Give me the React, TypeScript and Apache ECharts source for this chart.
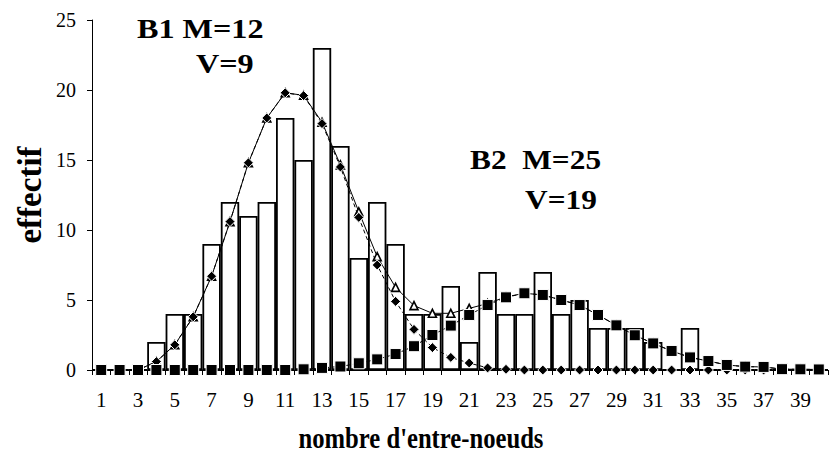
import React, { useEffect, useRef } from "react";
import * as echarts from "echarts";

const categories: string[] = Array.from({ length: 40 }, (_, i) => String(i + 1));

// observed counts (bars)
const observed: number[] = [
  0, 0, 0, 2, 4, 4, 9, 12, 11, 12,
  18, 15, 23, 16, 8, 12, 9, 4, 4, 6,
  2, 7, 4, 4, 7, 4, 5, 3, 3, 3,
  2, 0, 3, 0, 0, 0, 0, 0, 0, 0,
];

// B1 fitted normal (diamonds)
const fitB1: number[] = [
  0, 0, 0, 0.6, 1.8, 3.8, 6.7, 10.6, 14.8, 18.0,
  19.8, 19.6, 17.6, 14.5, 10.9, 7.5, 4.9, 2.9, 1.6, 0.9,
  0.5, 0.15, 0.05, 0, 0, 0, 0, 0, 0, 0,
  0, 0, 0, 0, 0, 0, 0, 0, 0, 0,
];

// B2 fitted normal (squares)
const fitB2: number[] = [
  0, 0, 0, 0, 0, 0, 0, 0, 0, 0,
  0, 0.05, 0.15, 0.25, 0.48, 0.76, 1.14, 1.7, 2.5, 3.17,
  3.93, 4.64, 5.19, 5.48, 5.36, 5.0, 4.64, 3.93, 3.19, 2.48,
  1.9, 1.36, 0.9, 0.64, 0.36, 0.24, 0.22, 0.06, 0.05, 0.04,
];

// mixture total (open triangles)
const fitTotal: number[] = [
  0, 0, 0, 0.6, 1.8, 3.8, 6.7, 10.6, 14.8, 18.0,
  19.8, 19.62, 17.7, 14.65, 11.3, 8.1, 5.9, 4.6, 4.05, 4.05,
  4.4, 4.75, 5.22, 5.48, 5.36, 5.0, 4.64, 3.93, 3.19, 2.48,
  1.9, 1.36, 0.9, 0.64, 0.36, 0.24, 0.22, 0.06, 0.05, 0.04,
];

const yTicks = { min: 0, max: 25, interval: 5 };

const FONT = "Liberation Serif";

const boldText = (text: string, x: number, y: number, size: number, extra: any = {}) => ({
  type: "text",
  x,
  y,
  ...extra,
  style: {
    text,
    fontFamily: FONT,
    fontWeight: "bold",
    fontSize: size,
    fill: "#000",
    align: extra.align || "left",
    verticalAlign: "middle",
  },
});

export default function App() {
  const ref = useRef<HTMLDivElement>(null);
  useEffect(() => {
    if (!ref.current) return;
    const chart = echarts.init(ref.current, undefined, { renderer: "svg" });
    chart.setOption({
      animation: false,
      backgroundColor: "#ffffff",
      grid: { left: 92, top: 20, width: 736, height: 350, containLabel: false },
      xAxis: {
        type: "category",
        data: categories,
        boundaryGap: true,
        axisLine: { lineStyle: { color: "#000", width: 1 } },
        axisTick: { show: true, inside: false, length: 5, interval: 0, lineStyle: { color: "#000" } },
        axisLabel: { interval: 1, margin: 19, color: "#000", fontFamily: FONT, fontSize: 21 },
        splitLine: { show: false },
      },
      yAxis: {
        type: "value",
        min: yTicks.min,
        max: yTicks.max,
        interval: yTicks.interval,
        axisLine: { show: true, lineStyle: { color: "#000", width: 1 } },
        axisTick: { show: true, length: 5, lineStyle: { color: "#000" } },
        axisLabel: { margin: 16, color: "#000", fontFamily: FONT, fontSize: 20 },
        splitLine: { show: false },
      },
      graphic: [
        boldText("effectif", 30, 195, 33, { rotation: Math.PI / 2, align: "center" }),
        boldText("nombre d'entre-noeuds", 421, 438, 29, { scaleX: 0.85, align: "center" }),
        boldText("B1 M=12", 137, 29, 28, { scaleX: 1.15 }),
        boldText("V=9", 196, 64, 28, { scaleX: 1.15 }),
        boldText("B2  M=25", 470, 160, 28, { scaleX: 1.12 }),
        boldText("V=19", 525, 200, 28, { scaleX: 1.12 }),
      ],
      series: [
        {
          type: "bar",
          name: "observé",
          data: observed,
          barWidth: "100%",
          barCategoryGap: "0%",
          itemStyle: { color: "#ffffff", borderColor: "#000", borderWidth: 1.8 },
          z: 1,
        },
        {
          type: "line",
          name: "total",
          data: fitTotal,
          symbol: "triangle",
          symbolSize: 8,
          showAllSymbol: true,
          lineStyle: { color: "#000", width: 1, type: "solid" },
          itemStyle: { color: "#fff", borderColor: "#000", borderWidth: 1.6 },
          z: 2,
        },
        {
          type: "line",
          name: "B1",
          data: fitB1,
          symbol: "diamond",
          symbolSize: 10,
          showAllSymbol: true,
          lineStyle: { color: "#000", width: 1, type: [4, 3] },
          itemStyle: { color: "#000", borderColor: "#fff", borderWidth: 1 },
          z: 3,
        },
        {
          type: "line",
          name: "B2",
          data: fitB2,
          symbol: "rect",
          symbolSize: 11,
          showAllSymbol: true,
          lineStyle: { color: "#000", width: 1, type: [4, 3] },
          itemStyle: { color: "#000", borderColor: "#fff", borderWidth: 1 },
          z: 4,
        },
      ],
    });
    return () => chart.dispose();
  }, []);
  return (
    <div
      ref={ref}
      style={{ position: "fixed", left: 0, top: 0, width: 831, height: 471, background: "#fff" }}
    />
  );
}
